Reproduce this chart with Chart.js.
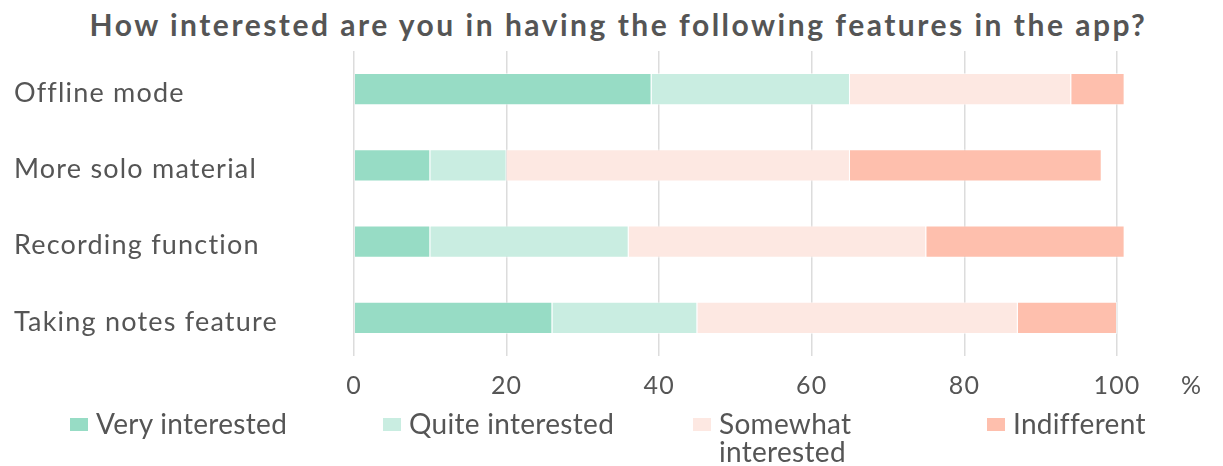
<!DOCTYPE html>
<html lang="en">
<head>
    <meta charset="UTF-8">
    <title>App features survey</title>
    <script src="https://cdn.jsdelivr.net/npm/chart.js"></script>
    <style>
        * { box-sizing: border-box; margin: 0; padding: 0; }
        body { width: 1223px; height: 466px; background: #fff; position: relative; overflow: hidden;
               font-family: Lato, sans-serif; color: #555; }
        #wrap { position: absolute; left: 0; top: 0; width: 1223px; height: 466px; }
        .titulo { position: absolute; left: 0; top: 0; width: 1237px; height: 48px; text-align: center;
                  font-size: 30px; font-weight: bold; letter-spacing: 2.5px; line-height: 48px; }
        .leyenda { position: absolute; top: 409px; left: 0; width: 1223px; height: 57px;
                   font-size: 28px; line-height: 28px; letter-spacing: 0.3px; }
        .item { position: absolute; top: 0; display: flex; align-items: flex-start; }
        .caja { width: 18px; height: 13px; margin-top: 9px; margin-right: 8px; flex: none; }
    </style>
</head>
<body>
    <div class="titulo">How interested are you in having the following features in the app?</div>
    <div id="wrap"><canvas id="grafico" width="1223" height="466"></canvas></div>
    <div class="leyenda" id="leyenda"></div>

    <script>
        // Datos (porcentaje de respuestas)
        const funciones = ['Offline mode', 'More solo material', 'Recording function', 'Taking notes feature'];
        const respuestas = ['Very interested', 'Quite interested', 'Somewhat interested', 'Indifferent'];
        const muyInteresado = [39, 10, 10, 26];
        const bastanteInteresado = [26, 10, 26, 19];
        const algoInteresado = [29, 45, 39, 42];
        const indiferente = [7, 33, 26, 13];
        const colores = ['#97dcc5', '#c9ede1', '#fde8e2', '#febfad'];
        const ticksX = [0, 20, 40, 60, 80, 100];

        const series = [muyInteresado, bastanteInteresado, algoInteresado, indiferente];
        const texto = '#555555';

        // Un poco de espaciado entre letras en los ejes y el simbolo % al final del eje X
        const ejes = {
            id: 'ejes',
            beforeDraw(chart) {
                chart.ctx.letterSpacing = '1.2px';
            },
            beforeDatasetsDraw(chart) {
                chart.ctx.letterSpacing = '0px';
            },
            afterDraw(chart) {
                const ctx = chart.ctx;
                const x = chart.scales.x;
                ctx.save();
                ctx.font = '25px Lato, sans-serif';
                ctx.fillStyle = texto;
                ctx.textAlign = 'center';
                ctx.textBaseline = 'middle';
                ctx.fillText('%', chart.chartArea.right + 74, x.top + 30);
                ctx.restore();
            }
        };

        const ctx = document.getElementById('grafico').getContext('2d');
        const grafico = new Chart(ctx, {
            type: 'bar',
            data: {
                labels: funciones,
                datasets: series.map((valores, i) => ({
                    label: respuestas[i],
                    data: valores,
                    backgroundColor: colores[i],
                    borderColor: 'rgba(255,255,255,0.5)',
                    borderWidth: 1,
                    barPercentage: 0.42,
                    categoryPercentage: 1,
                    clip: false
                }))
            },
            options: {
                indexAxis: 'y',
                responsive: false,
                animation: false,
                layout: { padding: { left: 14, right: 106, top: 51, bottom: 50 } },
                plugins: {
                    legend: { display: false },
                    tooltip: { enabled: false }
                },
                scales: {
                    x: {
                        stacked: true,
                        min: 0,
                        max: 100,
                        afterBuildTicks(scale) {
                            scale.ticks = ticksX.map(v => ({ value: v }));
                        },
                        afterFit(scale) { scale.height = 60; },
                        grid: { color: '#dcdcdc', lineWidth: 1.5, drawTicks: false },
                        border: { display: false },
                        ticks: {
                            color: texto,
                            padding: 15,
                            font: { family: 'Lato, sans-serif', size: 25 }
                        }
                    },
                    y: {
                        stacked: true,
                        afterFit(scale) { scale.width = 340; },
                        grid: { display: false, drawTicks: false },
                        border: { display: false },
                        ticks: {
                            color: texto,
                            crossAlign: 'far',
                            labelOffset: 4,
                            font: { family: 'Lato, sans-serif', size: 27 }
                        }
                    }
                }
            },
            plugins: [ejes]
        });

        // Leyenda en HTML para permitir el salto de linea
        const posiciones = [70, 383, 693, 987];
        const leyenda = document.getElementById('leyenda');
        respuestas.forEach((nombre, i) => {
            const item = document.createElement('div');
            item.className = 'item';
            item.style.left = posiciones[i] + 'px';
            const caja = document.createElement('span');
            caja.className = 'caja';
            caja.style.background = colores[i];
            const etiqueta = document.createElement('span');
            etiqueta.innerHTML = nombre === 'Somewhat interested' ? 'Somewhat<br>interested' : nombre;
            item.appendChild(caja);
            item.appendChild(etiqueta);
            leyenda.appendChild(item);
        });
    </script>
</body>
</html>
